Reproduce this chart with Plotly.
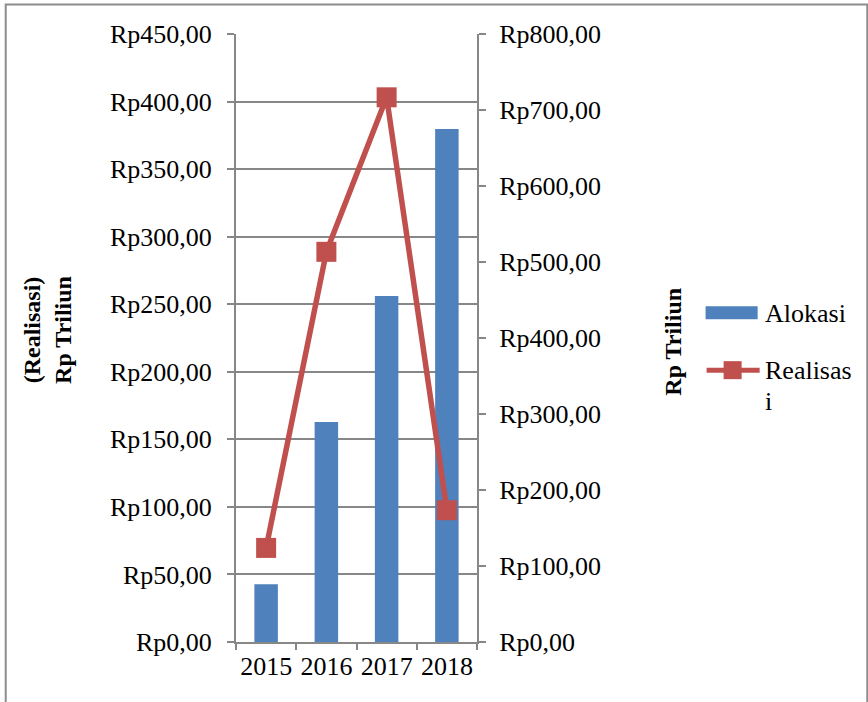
import plotly.graph_objects as go

years = ["2015", "2016", "2017", "2018"]
alokasi = [42.7, 162.9, 256.0, 379.7]      # left axis (Rp Triliun)
realisasi = [123.8, 513.4, 716.7, 173.4]   # right axis (Rp Triliun)

left_ticks = [0, 50, 100, 150, 200, 250, 300, 350, 400, 450]
right_ticks = [0, 100, 200, 300, 400, 500, 600, 700, 800]


def rp(v):
    return "Rp" + f"{v:.2f}".replace(".", ",")


BLUE = "#4F81BD"
RED = "#C0504D"
GRID = "#878787"
FONT = "'Liberation Serif', 'Times New Roman', Times, serif"

W, H = 868, 702
L, R, T, B = 236, 391.3, 34, 60.3
PW = W - L - R
PH = H - T - B


def px(x):
    return (x - L) / PW


def py(y):
    return (H - B - y) / PH


fig = go.Figure()
fig.add_trace(go.Bar(x=years, y=alokasi, name="Alokasi", marker_color=BLUE,
                     marker_line_width=0, width=0.39, yaxis="y", showlegend=False))
fig.add_trace(go.Scatter(x=years, y=realisasi, name="Realisasi", mode="lines+markers",
                         line=dict(color=RED, width=5.5),
                         marker=dict(symbol="square", size=20, color=RED),
                         yaxis="y2", showlegend=False, cliponaxis=False))

tickfont = dict(family=FONT, size=26, color="black")

fig.update_layout(
    width=W, height=H,
    margin=dict(l=L, r=R, t=T, b=B, pad=0),
    paper_bgcolor="white", plot_bgcolor="white",
    xaxis=dict(type="category", showline=True, linecolor=GRID, linewidth=2,
               ticks="outside", ticklen=6, tickwidth=2, tickcolor=GRID,
               tickson="boundaries", tickfont=tickfont, showgrid=False,
               tickangle=0, automargin=False),
    yaxis=dict(range=[0, 450], tickmode="array", tickvals=left_ticks,
               ticktext=[rp(v) for v in left_ticks],
               showline=True, linecolor=GRID, linewidth=2,
               ticks="outside", ticklen=7, tickwidth=2, tickcolor=GRID,
               showgrid=True, gridcolor=GRID, gridwidth=2, zeroline=False,
               tickfont=tickfont, ticklabelstandoff=10, automargin=False),
    yaxis2=dict(range=[0, 800], tickmode="array", tickvals=right_ticks,
                ticktext=[rp(v) for v in right_ticks],
                overlaying="y", side="right",
                showline=True, linecolor=GRID, linewidth=2,
                ticks="outside", ticklen=7, tickwidth=2, tickcolor=GRID,
                showgrid=False, zeroline=False, tickfont=tickfont, ticklabelstandoff=8,
                automargin=False),
)

title_font = dict(family=FONT, size=24, color="black")
fig.add_annotation(text="<b>(Realisasi)</b><br><b>Rp Triliun</b>", xref="paper", yref="paper",
                   x=px(47), y=py(330), xanchor="center", yanchor="middle",
                   textangle=-90, showarrow=False, font=title_font)
fig.add_annotation(text="<b>Rp Triliun</b>", xref="paper", yref="paper",
                   x=px(673), y=py(342), xanchor="center", yanchor="middle",
                   textangle=-90, showarrow=False, font=title_font)

# Legend (drawn manually)
fig.add_shape(type="rect", xref="paper", yref="paper",
              x0=px(705), x1=px(757), y0=py(319), y1=py(306),
              fillcolor=BLUE, line_width=0)
fig.add_shape(type="line", xref="paper", yref="paper",
              x0=px(706), x1=px(759), y0=py(370), y1=py(370),
              line=dict(color=RED, width=5))
fig.add_shape(type="rect", xref="paper", yref="paper",
              x0=px(723), x1=px(741), y0=py(379), y1=py(361),
              fillcolor=RED, line_width=0)
legfont = dict(family=FONT, size=26, color="black")
fig.add_annotation(text="Alokasi", xref="paper", yref="paper", x=px(762), y=py(313),
                   xanchor="left", yanchor="middle", showarrow=False, font=legfont)
fig.add_annotation(text="Realisas", xref="paper", yref="paper", x=px(762), y=py(370),
                   xanchor="left", yanchor="middle", showarrow=False, font=legfont)
fig.add_annotation(text="i", xref="paper", yref="paper", x=px(762), y=py(401),
                   xanchor="left", yanchor="middle", showarrow=False, font=legfont)

# Outer chart border
fig.add_shape(type="rect", xref="paper", yref="paper",
              x0=px(6), x1=px(866.5), y0=py(720), y1=py(4.5),
              line=dict(color="#8c8c8c", width=2), fillcolor="rgba(0,0,0,0)", layer="below")

fig.write_html("out.html")
